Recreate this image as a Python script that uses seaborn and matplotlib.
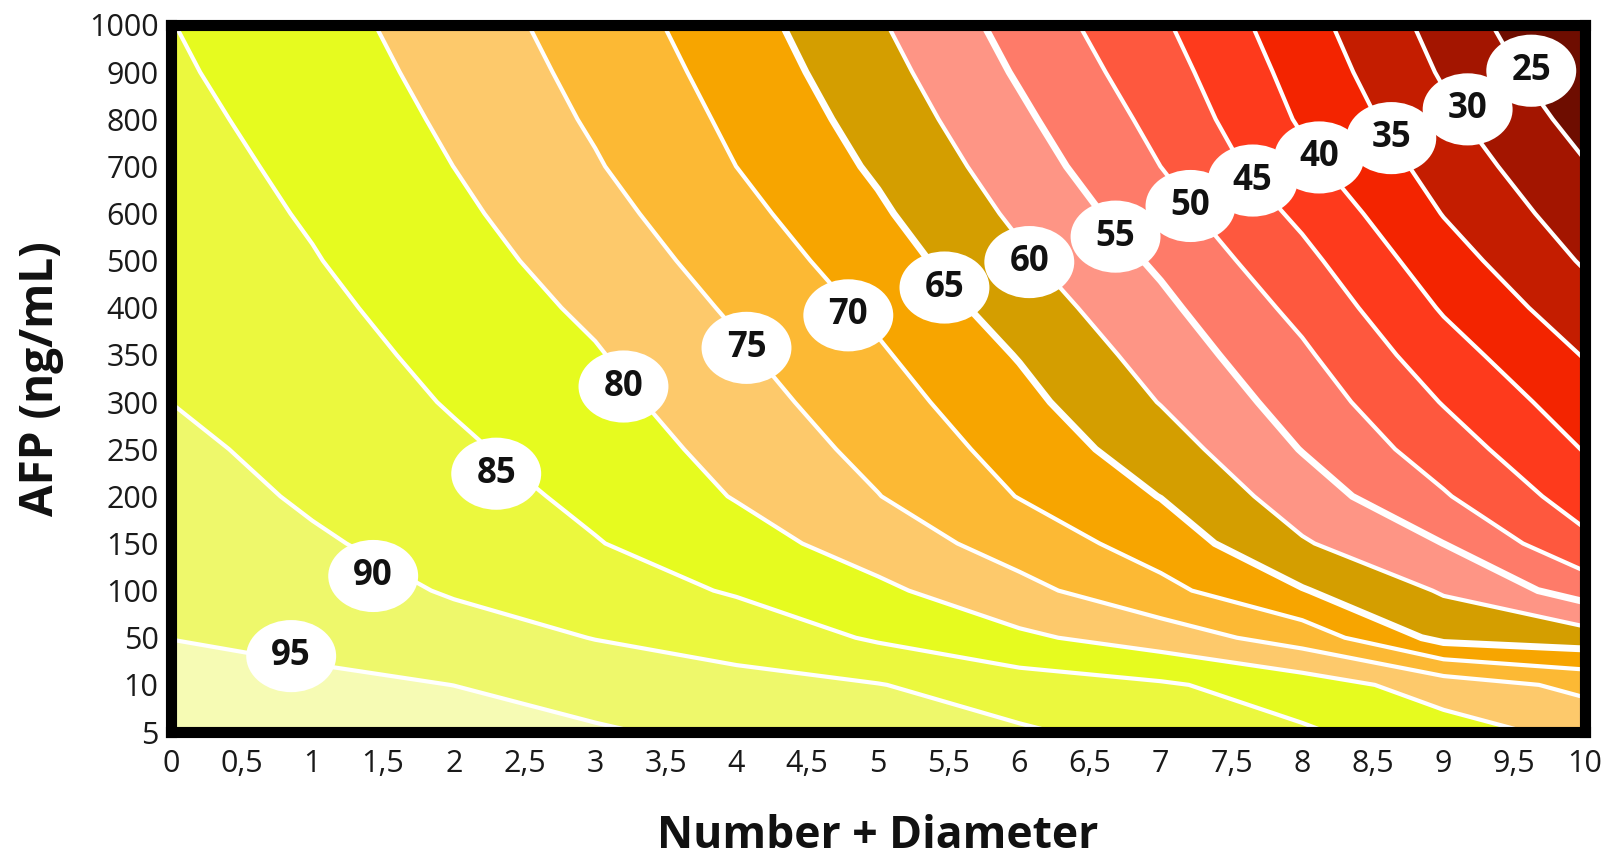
import numpy as np
import matplotlib
matplotlib.use("Agg")
import matplotlib.pyplot as plt
from matplotlib.patches import Ellipse
import seaborn as sns

# ---------------- data ----------------
# x grid (Number + Diameter) and AFP levels (evenly spaced categories)
x_values = [0, 1, 2, 3, 4, 5, 6, 7, 8, 9, 10]
afp_labels = ["5", "10", "50", "100", "150", "200", "250", "300", "350",
              "400", "500", "600", "700", "800", "900", "1000"]
x_tick_labels = ["0", "0,5", "1", "1,5", "2", "2,5", "3", "3,5", "4", "4,5", "5",
                 "5,5", "6", "6,5", "7", "7,5", "8", "8,5", "9", "9,5", "10"]

# estimated survival (%) along each x column, from AFP=5 (bottom) to AFP=1000 (top)
surv_x0 = [97.0, 96.0, 94.96, 93.97, 92.98, 91.98, 90.99, 89.98, 89.38, 88.75, 88.13, 87.5, 86.88, 86.25, 85.63, 85.1]
surv_x1 = [96.5, 95.7, 94.11, 92.32, 90.54, 89.42, 88.58, 87.75, 86.92, 86.08, 85.25, 84.54, 83.88, 83.22, 82.57, 81.91]
surv_x2 = [96.3, 94.98, 91.97, 89.56, 88.29, 87.03, 85.76, 84.63, 83.70, 82.78, 81.85, 80.93, 79.98, 79.21, 78.41, 77.62]
surv_x3 = [95.57, 92.71, 89.88, 87.56, 85.23, 83.93, 82.74, 81.55, 80.36, 79.13, 77.88, 76.63, 75.38, 74.40, 73.53, 72.67]
surv_x4 = [93.6, 91.3, 88.2, 84.5, 82.0, 79.73, 78.38, 77.03, 75.68, 74.29, 72.86, 71.43, 69.98, 69.06, 68.11, 67.17]
surv_x5 = [92.0, 90.18, 84.4, 81.0, 77.69, 75.13, 73.58, 72.09, 70.60, 69.02, 67.38, 65.74, 64.30, 63.04, 61.77, 60.51]
surv_x6 = [90.6, 87.35, 80.91, 76.4, 72.9, 69.83, 68.14, 66.44, 64.71, 62.75, 60.78, 59.06, 57.5, 55.94, 54.47, 53.16]
surv_x7 = [88.1, 85.62, 77.59, 71.32, 67.79, 64.87, 62.31, 59.81, 57.96, 56.11, 54.17, 52.08, 49.98, 48.57, 47.14, 45.71]
surv_x8 = [85.6, 82.5, 72.78, 65.31, 60.48, 57.5, 54.8, 52.8, 50.8, 48.64, 46.36, 43.95, 41.32, 39.38, 38.13, 36.88]
surv_x9 = [82.1, 77.63, 63.57, 59.55, 54.98, 50.45, 47.5, 44.74, 42.11, 39.52, 37.14, 34.81, 32.96, 31.11, 29.47, 28.16]
surv_x10 = [78.5, 73.73, 62.27, 52.73, 46.11, 42.65, 39.75, 37.25, 34.73, 32.03, 29.48, 27.38, 25.29, 23.2, 21.1, 19.0]

line_levels = [25, 30, 35, 40, 45, 50, 55, 60, 65, 70, 75, 80, 85, 90, 95]

# contour label anchors (value, x, AFP-category index)
label_values = [95, 90, 85, 80, 75, 70, 65, 60, 55, 50, 45, 40, 35, 30, 25]
label_x = [0.85, 1.43, 2.30, 3.20, 4.07, 4.79, 5.47, 6.07, 6.68, 7.21, 7.65, 8.12, 8.63, 9.17, 9.62]
label_y = [1.61, 3.31, 5.48, 7.33, 8.15, 8.84, 9.43, 9.97, 10.51, 11.16, 11.70, 12.19, 12.60, 13.21, 14.03]

# band colours, from <25 up to >95
band_colors = ["#6e0d00", "#a31500", "#c41d00", "#f32400", "#fe3a1c", "#fe583e",
               "#fe7b69", "#fe9585", "#d49e00", "#f7a500", "#fcb934", "#fdc96b",
               "#e6fb1f", "#ebf83e", "#eef86b", "#f6fbb4"]

# ---------------- drawing ----------------
sns.set_theme(style="white")
plt.rcParams["font.family"] = ["Open Sans", "DejaVu Sans"]

W, H = 1609, 858
fig = plt.figure(figsize=(W / 100, H / 100), dpi=100)
left, right, top, bottom = 171, 1585, 25, 732
ax = fig.add_axes([left / W, 1 - bottom / H, (right - left) / W, (bottom - top) / H])

y_index = np.arange(len(afp_labels))
X, Y = np.meshgrid(np.array(x_values, dtype=float), y_index)
Z = np.column_stack([surv_x0, surv_x1, surv_x2, surv_x3, surv_x4, surv_x5,
                     surv_x6, surv_x7, surv_x8, surv_x9, surv_x10])

fill_levels = [0] + line_levels + [100]
ax.contourf(X, Y, Z, levels=fill_levels, colors=band_colors, zorder=1)
lws = [5.0 if lv in (55, 65) else 3.0 for lv in line_levels]
ax.contour(X, Y, Z, levels=line_levels, colors="white", linewidths=lws, zorder=2)

for v, lx, ly in zip(label_values, label_x, label_y):
    ax.add_patch(Ellipse((lx, ly), 0.636, 1.53, facecolor="white", edgecolor="none", zorder=5))
    ax.text(lx, ly, str(v), ha="center", va="center", fontsize=25, fontweight="bold",
            color="#111111", zorder=6)

ax.set_xlim(0, 10)
ax.set_ylim(0, len(afp_labels) - 1)
ax.set_xticks(np.arange(0, 10.01, 0.5))
ax.set_xticklabels(x_tick_labels)
ax.set_yticks(y_index)
ax.set_yticklabels(afp_labels)
ax.tick_params(axis="both", length=0, labelsize=22, colors="#1a1a1a")
ax.tick_params(axis="x", pad=12)
ax.tick_params(axis="y", pad=9)

for s in ax.spines.values():
    s.set_visible(True)
    s.set_linewidth(8)
    s.set_color("black")
    s.set_zorder(10)

ax.set_xlabel("Number + Diameter", fontsize=32, fontweight="bold", color="#111111")
ax.set_ylabel("AFP (ng/mL)", fontsize=33, fontweight="bold", color="#111111")
ax.xaxis.set_label_coords(0.5, (bottom - 836) / (bottom - top))
ax.xaxis.label.set_va("center")
ax.yaxis.set_label_coords((41 - left) / (right - left), 0.5)
ax.yaxis.label.set_va("center")

fig.savefig("out.png", dpi=100)
